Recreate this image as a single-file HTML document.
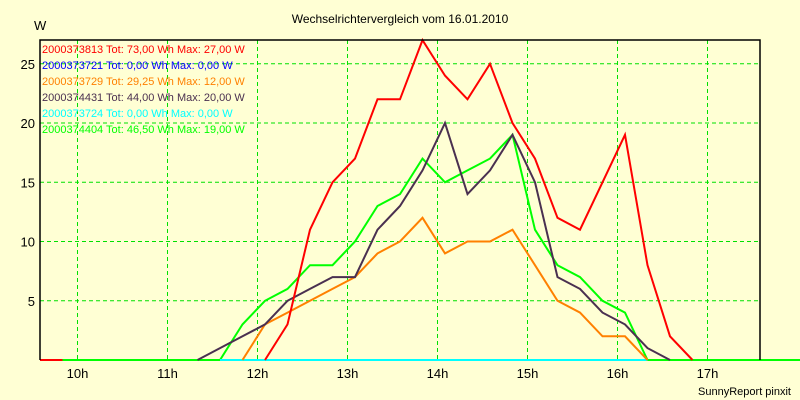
<!DOCTYPE html>
<html><head><meta charset="utf-8"><style>
html,body{margin:0;padding:0;background:#FFFFD4;}
svg{display:block;font-family:"Liberation Sans",sans-serif;}
</style></head><body>
<svg id="chart" width="800" height="400" xmlns="http://www.w3.org/2000/svg">
<rect width="800" height="400" fill="#FFFFD4"/>
<text x="400" y="23" font-size="12" text-anchor="middle">Wechselrichtervergleich vom 16.01.2010</text>
<text x="34" y="30" font-size="13">W</text>
<text x="791" y="395" font-size="11" text-anchor="end">SunnyReport pinxit</text>
<g id="grid"></g><g id="series"></g><g id="axes"></g><g id="legend"></g>
</svg>
<script>
const yTicks=[5,10,15,20,25];
const xTickLabels=["10h","11h","12h","13h","14h","15h","16h","17h"];
const xTickHours=[10,11,12,13,14,15,16,17];
const seriesNames=["2000373813","2000373721","2000373729","2000374431","2000373724","2000374404"];
const seriesLegend=["Tot: 73,00 Wh Max: 27,00 W","Tot: 0,00 Wh Max: 0,00 W","Tot: 29,25 Wh Max: 12,00 W","Tot: 44,00 Wh Max: 20,00 W","Tot: 0,00 Wh Max: 0,00 W","Tot: 46,50 Wh Max: 19,00 W"];
const seriesColors=["#FF0000","#0000FF","#FF8000","#4A3050","#00FFFF","#00FF00"];
// start time (hours) and 15-minute values
const redStart=9+35/60;
const redVals=[0,0];
const red2Start=12+5/60;
const red2Vals=[0,3,11,15,17,22,22,27,24,22,25,20,17,12,11,15,19,8,2,0];
const orangeStart=11+50/60;
const orangeVals=[0,3,4,5,6,7,9,10,12,9,10,10,11,8,5,4,2,2,0];
const darkStart=11+20/60;
const darkVals=[0,1,2,3,5,6,7,7,11,13,16,20,14,16,19,15,7,6,4,3,1,0];
const greenStart=9+50/60;
const greenVals=[0,0,0,0,0,0,0,0,3,5,6,8,8,10,13,14,17,15,16,17,19,11,8,7,5,4,0,0,0,0,0,0,0,0,0];
const cyanStart=11+35/60;
const cyanVals=[0,0,0,0,0,0,0,0,0,0,0,0,0,0,0,0,0,0,0,0];
const blueVals=[];

const L=40,R=760,T=40,B=360;
const xs=h=>77.5+(h-10)*90;
const ys=v=>B-v*11.85;
const NS="http://www.w3.org/2000/svg";
function mk(tag,parent,attrs){const e=document.createElementNS(NS,tag);for(const k in attrs)e.setAttribute(k,attrs[k]);parent.appendChild(e);return e;}
const grid=document.getElementById('grid');
yTicks.forEach(v=>{
 const l=mk('line',grid,{x1:L,x2:R,y1:ys(v),y2:ys(v),stroke:'#00E000','stroke-dasharray':'4,3'});
 
 
 const t=mk('text',grid,{x:35,y:ys(v)+5,'font-size':13,'text-anchor':'end'});
 t.textContent=v;
 
 
});
xTickHours.forEach((h,i)=>{
 const l=mk('line',grid,{x1:xs(h),x2:xs(h),y1:T,y2:B,stroke:'#00E000','stroke-dasharray':'4,3'});
 
 
 const t=mk('text',grid,{x:xs(h),y:378,'font-size':13,'text-anchor':'middle'});
 t.textContent=xTickLabels[i];
 
 
});
const sg=document.getElementById('series');
function draw(start,vals,color,name){
 if(!vals.length)return;
 const pts=vals.map((v,i)=>xs(start+i*0.25).toFixed(1)+','+ys(v).toFixed(1)).join(' ');
 const p=mk('polyline',sg,{points:pts,fill:'none',stroke:color,'stroke-width':2,'stroke-linejoin':'miter'});
 
 
}
draw(redStart,redVals,seriesColors[0],'series-2000373813-early');
draw(greenStart,greenVals,seriesColors[5],'series-2000374404');
draw(cyanStart,cyanVals,seriesColors[4],'series-2000373724');
draw(orangeStart,orangeVals,seriesColors[2],'series-2000373729');
draw(darkStart,darkVals,seriesColors[3],'series-2000374431');
draw(red2Start,red2Vals,seriesColors[0],'series-2000373813');
const ax=document.getElementById('axes');
const a1=mk('polyline',ax,{points:`${L},${B} ${L},${T} ${R},${T} ${R},${B}`,fill:'none',stroke:'#000','stroke-width':1.5});


const lg=document.getElementById('legend');
seriesNames.forEach((n,i)=>{
 const t=mk('text',lg,{x:42,y:53+i*16,'font-size':11,fill:seriesColors[i]});
 t.textContent=n+' '+seriesLegend[i];
 
 
});
</script>
</body></html>
